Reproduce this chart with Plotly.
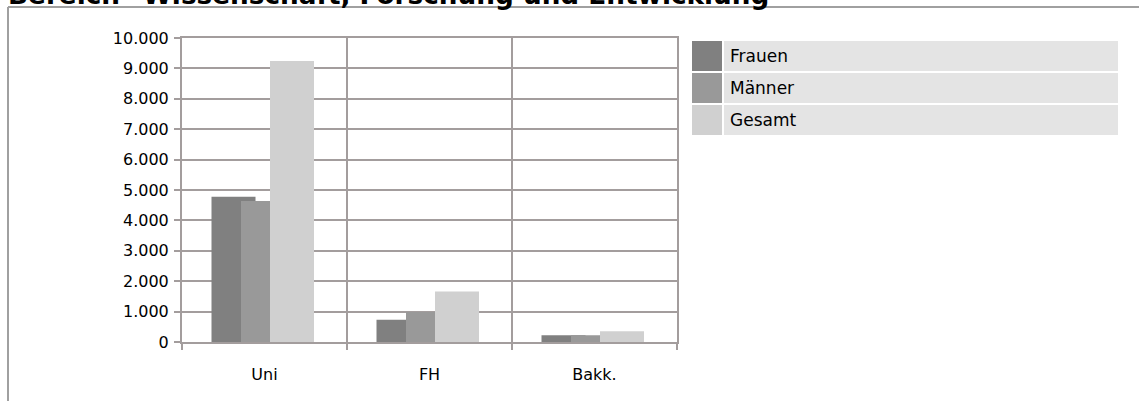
import plotly.graph_objects as go

categories = ["Uni", "FH", "Bakk."]
series_names = ["Frauen", "Männer", "Gesamt"]
frauen = [4780, 730, 220]
maenner = [4640, 990, 220]
gesamt = [9240, 1660, 350]
y_ticks = list(range(0, 10001, 1000))

colors = ["#808080", "#999999", "#d0d0d0"]
grid = "#a39d9d"
W, H = 1139, 401
L, R, T, B = 182, 677, 38, 342


def px(x):
    return (x - L) / (R - L)


def py(y):
    return (B - y) / (B - T)


unit = (R - L) / len(categories)
bar_w = 44 / unit
offsets = [-53 / unit, -23.5 / unit, 5.5 / unit]

fig = go.Figure()
for name, vals, col, off in zip(series_names, [frauen, maenner, gesamt], colors, offsets):
    fig.add_trace(go.Bar(
        x=categories, y=vals, name=name, marker=dict(color=col, line=dict(width=0)),
        width=bar_w, offset=off, showlegend=False,
    ))

shapes = []
annotations = []
# legend rows (manual)
row_tops = [41, 73, 105]
for name, col, top in zip(series_names, colors, row_tops):
    shapes.append(dict(type="rect", xref="paper", yref="paper", x0=px(692), x1=px(722),
                       y0=py(top + 30), y1=py(top), fillcolor=col, line=dict(width=0), layer="above"))
    shapes.append(dict(type="rect", xref="paper", yref="paper", x0=px(724), x1=px(1118),
                       y0=py(top + 30), y1=py(top), fillcolor="#e4e4e4", line=dict(width=0), layer="above"))
    annotations.append(dict(text=name, xref="paper", yref="paper", x=px(728), y=py(top + 15),
                            xanchor="left", yanchor="middle", showarrow=False,
                            font=dict(family="DejaVu Sans", size=17, color="#000000")))
# frame
shapes.append(dict(type="line", xref="paper", yref="paper", x0=px(8), x1=px(1139), y0=py(7), y1=py(7),
                   line=dict(color="#a0a0a0", width=2)))
shapes.append(dict(type="line", xref="paper", yref="paper", x0=px(8), x1=px(8), y0=py(7), y1=py(401),
                   line=dict(color="#a0a0a0", width=2)))
annotations.append(dict(text='<b>Bereich "Wissenschaft, Forschung und Entwicklung"</b>', xref="paper", yref="paper",
                        x=px(7), y=py(10.5), xanchor="left", yanchor="bottom", showarrow=False, borderpad=0,
                        font=dict(family="DejaVu Sans", size=26.3, color="#000000")))

fig.update_layout(
    width=W, height=H, barmode="overlay",
    margin=dict(l=L, r=W - R, t=T, b=H - B, pad=0),
    paper_bgcolor="white", plot_bgcolor="white",
    separators=",.",
    font=dict(family="DejaVu Sans", size=16, color="#000000"),
    shapes=shapes, annotations=annotations,
    xaxis=dict(type="category", range=[-0.5, 2.5], tickson="boundaries", showgrid=True, gridcolor=grid,
               gridwidth=2, ticks="outside", ticklen=6, tickwidth=2, tickcolor=grid, showline=True,
               linecolor=grid, linewidth=2, mirror=True, ticklabelstandoff=17, fixedrange=True),
    yaxis=dict(range=[0, 10000], tickvals=y_ticks, tickformat=",d", showgrid=True, gridcolor=grid,
               gridwidth=2, ticks="outside", ticklen=6, tickwidth=2, tickcolor=grid, showline=True,
               linecolor=grid, linewidth=2, mirror=True, zeroline=False, ticklabelstandoff=2, fixedrange=True),
)
fig.write_html("out.html", config={"displayModeBar": False},
               post_script="document.body.style.margin='0px';document.body.style.overflow='hidden';")
